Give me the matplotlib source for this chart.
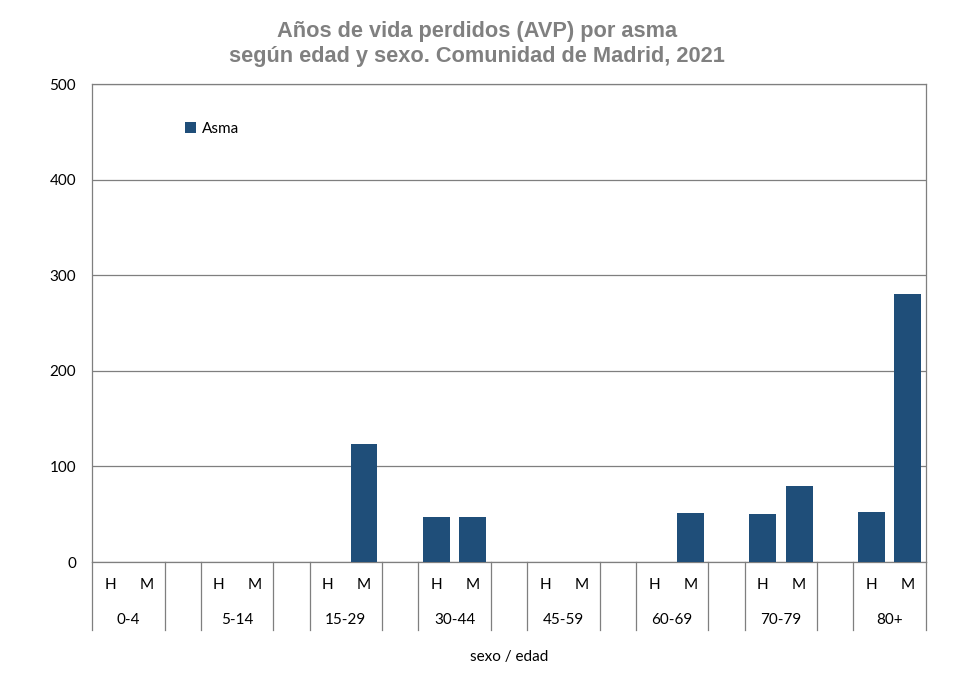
import matplotlib
matplotlib.use("Agg")
import matplotlib.pyplot as plt
from matplotlib.transforms import blended_transform_factory
import numpy as np

# datos
edades = ["0-4", "5-14", "15-29", "30-44", "45-59", "60-69", "70-79", "80+"]
hombres = [0, 0, 0, 47, 0, 0, 50, 52]
mujeres = [0, 0, 123, 47, 0, 51, 80, 280]
sexos = ["H", "M"]
yticks = [0, 100, 200, 300, 400, 500]

AZUL = "#1F4E79"
GRIS = "#808080"

fig = plt.figure(figsize=(9.7, 6.73), dpi=100)
ax = fig.add_axes([92/970, 1-562/673, (926-92)/970, (562-84)/673])

# posiciones: H, M y un hueco por grupo (el último sin hueco)
pos_h = np.arange(len(edades)) * 3
pos_m = pos_h + 1
xs = np.concatenate([pos_h, pos_m])
vals = np.concatenate([hombres, mujeres])
ax.bar(xs, vals, width=0.74, color=AZUL, label="Asma", zorder=3)

ax.set_xlim(-0.5, 3*len(edades) - 1.5)
ax.set_ylim(0, 500)
ax.set_yticks(yticks)
ax.set_yticklabels([str(v) for v in yticks], fontsize=11, family="Lato")
ax.tick_params(axis="y", length=0, pad=11.5)
ax.set_xticks([])
ax.yaxis.grid(True, color="#7f7f7f", linewidth=0.9, zorder=0)
for s in ax.spines.values():
    s.set_color("#7f7f7f")
    s.set_linewidth(0.9)

# etiquetas de categorías de dos niveles
tr = blended_transform_factory(ax.transData, ax.transAxes)
lbl_font = dict(fontsize=11, family="Lato", color="black", ha="center", va="center")
for i, e in enumerate(edades):
    ax.text(pos_h[i], -23/478, sexos[0], transform=tr, clip_on=False, **lbl_font)
    ax.text(pos_m[i], -23/478, sexos[1], transform=tr, clip_on=False, **lbl_font)
    ax.text((pos_h[i] + pos_m[i]) / 2, -58/478, e, transform=tr, clip_on=False, **lbl_font)

# líneas separadoras bajo el eje
bordes = [-0.5] + [b for k in range(len(edades) - 1) for b in (3*k + 1.5, 3*k + 2.5)] + [3*len(edades) - 1.5]
for b in bordes:
    ax.plot([b, b], [0, -68/478], transform=tr, clip_on=False, color="#7f7f7f", linewidth=0.9)

fig.text((92 + 926) / 2 / 970, 1 - 657/673, "sexo / edad", ha="center", va="center",
         fontsize=11, family="Lato")

fig.suptitle("Años de vida perdidos (AVP) por asma\nsegún edad y sexo. Comunidad de Madrid, 2021",
             x=477/970, y=1 - 21/673, va="top", fontsize=15.7, fontweight="bold",
             color=GRIS, family="Liberation Sans", linespacing=1.25)

leg = ax.legend(loc="upper left", bbox_to_anchor=(0.095, 0.95), frameon=False,
                prop={"family": "Lato", "size": 11}, handlelength=0.7, handleheight=0.7,
                handletextpad=0.4)

fig.savefig("out.png", dpi=100)
